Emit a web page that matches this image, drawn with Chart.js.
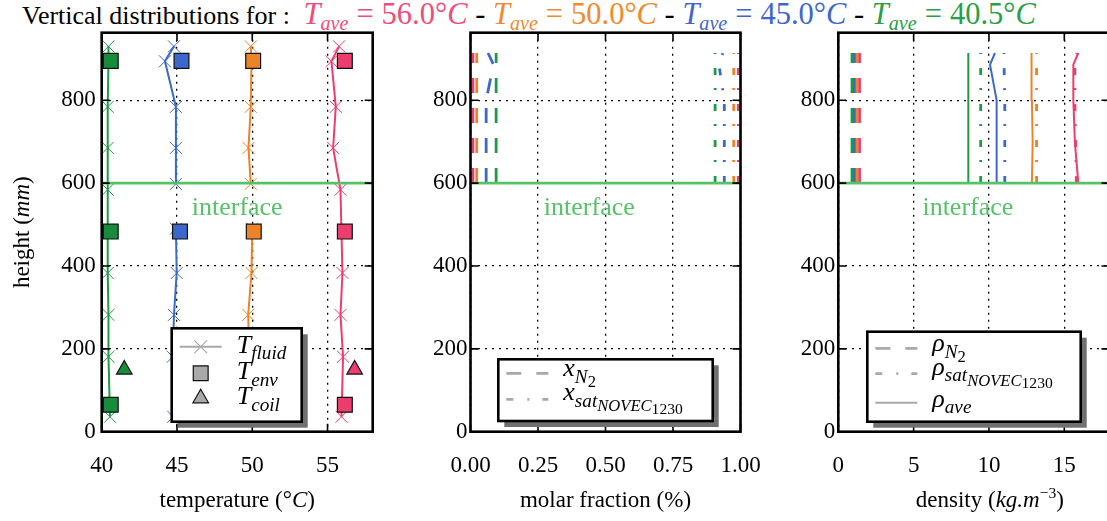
<!DOCTYPE html>
<html>
<head>
<meta charset="utf-8">
<title>Vertical distributions</title>
<script src="https://cdn.jsdelivr.net/npm/chart.js@4.4.1/dist/chart.umd.min.js"></script>
<style>
  html, body { margin: 0; padding: 0; background: #fff; }
  body { width: 1107px; height: 521px; overflow: hidden; position: relative; font-family: "Liberation Serif", "DejaVu Serif", serif; }
  .panel { position: absolute; top: 0; height: 521px; }
  #p1 { left: 0; width: 390px; }
  #p2 { left: 390px; width: 370px; }
  #p3 { left: 760px; width: 360px; }
  #title { position: absolute; left: 22px; top: -2px; font-size: 30.5px; line-height: 32px; white-space: nowrap; }
  #title .pre { font-size: 26px; margin-right: 6px; }
  #title .eq { margin: 0 8px; }
  #title sub { font-size: 0.66em; line-height: 0; vertical-align: -0.28em; }
</style>
</head>
<body>
<div id="title"><span class="pre">Vertical distributions for :</span> <span style="color:#f04c7a"><i>T</i><sub><i>ave</i></sub><span class="eq">=</span>56.0°<i>C</i></span> - <span style="color:#f08a2c"><i>T</i><sub><i>ave</i></sub><span class="eq">=</span>50.0°<i>C</i></span> - <span style="color:#3f66cf"><i>T</i><sub><i>ave</i></sub><span class="eq">=</span>45.0°<i>C</i></span> - <span style="color:#27a046"><i>T</i><sub><i>ave</i></sub><span class="eq">=</span>40.5°<i>C</i></span></div>
<div class="panel" id="p1"><canvas id="c1"></canvas></div>
<div class="panel" id="p2"><canvas id="c2"></canvas></div>
<div class="panel" id="p3"><canvas id="c3"></canvas></div>
<script>
// ---- heights (mm)
const hFluid = [36, 181, 282, 383, 584, 685, 784, 894, 930];
const hLiq = [36, 181, 282, 383, 490];
const hGas = [598, 685, 784, 894, 930];
const hEnv = [65, 483, 895];
const hCoil = [150];
const hProfile = [600, 700, 800, 886, 914];
const hInterface = 600;

// ---- temperatures (°C)
const tFluid56 = [55.93, 56.03, 55.86, 55.99, 55.86, 55.37, 55.55, 55.26, 55.77];
const tFluid40 = [40.55, 40.45, 40.45, 40.4, 40.4, 40.4, 40.4, 40.45, 40.45];
const tLiq50 = [49.8, 49.8, 49.73, 49.95, 50.0];
const tGas50 = [49.9, 49.75, 49.9, 49.95, 49.9];
const tLiq45 = [44.75, 44.72, 44.8, 44.98, 44.93];
const tGas45 = [44.93, 44.93, 44.93, 44.2, 44.8];
const tEnv56 = [56.15, 56.15, 56.15];
const tEnv50 = [50.1, 50.1, 50.06];
const tEnv45 = [45.25, 45.2, 45.3];
const tEnv40 = [40.6, 40.6, 40.6];
const tCoil56 = [56.8];
const tCoil50 = [50.9];
const tCoil45 = [45.9];
const tCoil40 = [41.5];

// ---- molar fractions
const xN2_56 = [0.009, 0.009, 0.009, 0.009, 0.009];
const xN2_50 = [0.023, 0.023, 0.023, 0.023, 0.023];
const xN2_45 = [0.058, 0.058, 0.058, 0.085, 0.065];
const xN2_40 = [0.095, 0.095, 0.095, 0.095, 0.095];
const xSat56 = [0.992, 0.992, 0.992, 0.992, 0.992];
const xSat50 = [0.975, 0.975, 0.975, 0.975, 0.975];
const xSat45 = [0.94, 0.94, 0.94, 0.92, 0.935];
const xSat40 = [0.906, 0.906, 0.906, 0.906, 0.906];

// ---- densities (kg/m3)
const rN2_56 = [1.41, 1.41, 1.41, 1.41, 1.41];
const rN2_50 = [1.24, 1.24, 1.24, 1.24, 1.24];
const rN2_45 = [1.07, 1.07, 1.07, 1.07, 1.07];
const rN2_40 = [0.91, 0.91, 0.91, 0.91, 0.91];
const rSat56 = [15.8, 15.75, 15.7, 15.7, 15.85];
const rSat50 = [13.16, 13.16, 13.16, 13.16, 13.16];
const rSat45 = [11.05, 11.05, 11.05, 11.0, 11.0];
const rSat40 = [9.45, 9.45, 9.45, 9.45, 9.45];
const rAve56 = [15.93, 15.7, 15.6, 15.6, 15.93];
const rAve50 = [12.85, 12.9, 12.85, 12.8, 12.85];
const rAve45 = [10.51, 10.51, 10.51, 10.07, 10.4];
const rAve40 = [8.63, 8.63, 8.63, 8.63, 8.63];

// ---- ticks
const tempTicks = [40, 45, 50, 55];
const fracTicks = [0, 0.25, 0.5, 0.75, 1];
const densTicks = [0, 5, 10, 15];
const heightTicks = [0, 200, 400, 600, 800];

const RED = '#ec3d6f', ORANGE = '#ec8328', BLUE = '#3c68cc', GREEN = '#1f9a44', GREEN_SQ = '#178c3b';
const IFACE = '#56c267';
const LEG_GRAY = '#a9a9a9';
const FONT = '"Liberation Serif", "DejaVu Serif", serif';
const PLOT_TOP = 32.7, PLOT_BOTTOM = 431.7, H_MAX = 963;
const DASH_N2 = [15, 15], DASH_SAT = [7, 14, 2, 13];

function pts(xs, ys) { return xs.map((v, i) => ({ x: v, y: ys[i] })); }
function split(liq, gas) { return pts(liq.concat([null], gas), hLiq.concat([null], hGas)); }

function fluid(data, color) {
  return { data, showLine: true, borderColor: color, borderWidth: 2, pointStyle: 'crossRot',
    pointRadius: 8.5, pointBorderColor: color, pointBorderWidth: 1, order: 3 };
}
function marker(data, color, style, r) {
  return { data, showLine: false, pointStyle: style, pointRadius: r, pointBackgroundColor: color,
    pointBorderColor: '#111', pointBorderWidth: 1.2, order: 2 };
}
function profile(xs, color, dash, w) {
  return { data: pts(xs, hProfile), showLine: true, borderColor: color, borderWidth: w,
    borderDash: dash, pointRadius: 0, order: 3 };
}
function iface(min, max) {
  return { data: pts([min, max], [hInterface, hInterface]), showLine: true, borderColor: IFACE,
    borderWidth: 2.6, pointRadius: 0, order: 0 };
}

// rich text: parts = [text, italic, level] ; level 0 normal, 1..3 subscripts, 'sup'
const LV = [{ s: 1, dy: 0 }, { s: 0.74, dy: 0.26 }, { s: 0.64, dy: 0.42 }, { s: 0.6, dy: 0.52 }];
function drawRich(ctx, parts, x, y, size, align) {
  const seg = parts.map(([t, it, lv]) => {
    const L = lv === 'sup' ? { s: 0.68, dy: -0.4 } : LV[lv || 0];
    const font = (it ? 'italic ' : '') + (size * L.s).toFixed(1) + 'px ' + FONT;
    ctx.font = font;
    return { t, font, dy: L.dy * size, w: ctx.measureText(t).width };
  });
  const total = seg.reduce((s, p) => s + p.w, 0);
  let cx = align === 'center' ? x - total / 2 : align === 'right' ? x - total : x;
  ctx.textAlign = 'left';
  ctx.textBaseline = 'alphabetic';
  seg.forEach(p => { ctx.font = p.font; ctx.fillText(p.t, cx, y + p.dy); cx += p.w; });
}

function drawLegend(ctx, a, L) {
  const x0 = a.left + L.dx, y0 = a.top + L.dy;
  ctx.fillStyle = '#707070';
  ctx.fillRect(x0 + 6, y0 + 6, L.w, L.h);
  ctx.fillStyle = '#fff';
  ctx.fillRect(x0, y0, L.w, L.h);
  ctx.lineWidth = 2.6;
  ctx.strokeStyle = '#000';
  ctx.strokeRect(x0, y0, L.w, L.h);
  L.rows.forEach(r => {
    const y = y0 + r.dy;
    if (r.dash) {
      ctx.save();
      ctx.strokeStyle = LEG_GRAY;
      ctx.lineWidth = r.lw;
      ctx.setLineDash(r.dash);
      ctx.beginPath();
      ctx.moveTo(x0 + 8, y);
      ctx.lineTo(x0 + 50, y);
      ctx.stroke();
      ctx.restore();
    }
    if (r.point) {
      ctx.save();
      ctx.strokeStyle = r.point.border || LEG_GRAY;
      ctx.fillStyle = LEG_GRAY;
      ctx.lineWidth = r.point.borderWidth;
      Chart.helpers.drawPoint(ctx, r.point, x0 + 29, y);
      ctx.restore();
    }
    ctx.fillStyle = '#000';
    drawRich(ctx, r.text, x0 + 65, y + (r.base || 6), 26, 'left');
  });
}

const decor = {
  id: 'decor',
  afterDraw(chart, args, o) {
    const { ctx, chartArea: a } = chart;
    const xs = chart.scales.x, ys = chart.scales.y;
    ctx.save();
    ctx.fillStyle = IFACE;
    ctx.font = '26px ' + FONT;
    ctx.textAlign = 'center';
    ctx.textBaseline = 'middle';
    ctx.fillText('interface', xs.getPixelForValue(o.labelX), ys.getPixelForValue(540));

    // inward tick marks on all four sides
    ctx.strokeStyle = '#000';
    ctx.lineWidth = 1.6;
    ctx.beginPath();
    xs.ticks.forEach(t => {
      const px = xs.getPixelForValue(t.value);
      ctx.moveTo(px, a.bottom); ctx.lineTo(px, a.bottom - 8);
      ctx.moveTo(px, a.top); ctx.lineTo(px, a.top + 8);
    });
    ys.ticks.forEach(t => {
      const py = ys.getPixelForValue(t.value);
      ctx.moveTo(a.left, py); ctx.lineTo(a.left + 8, py);
      ctx.moveTo(a.right, py); ctx.lineTo(a.right - 8, py);
    });
    ctx.stroke();
    ctx.lineWidth = 2.6;
    ctx.strokeRect(a.left, a.top, a.right - a.left, a.bottom - a.top);

    if (o.legend) drawLegend(ctx, a, o.legend);

    ctx.fillStyle = '#000';
    drawRich(ctx, o.xTitle, (a.left + a.right) / 2 + (o.xShift || 0), 507, 23, 'center');
    if (o.yTitle) {
      ctx.translate(29, (a.top + a.bottom) / 2);
      ctx.rotate(-Math.PI / 2);
      drawRich(ctx, o.yTitle, 0, 0, 23, 'center');
    }
    ctx.restore();
  }
};

function makePanel(id, p) {
  new Chart(document.getElementById(id), {
    type: 'scatter',
    data: { datasets: p.datasets },
    options: {
      responsive: true,
      maintainAspectRatio: false,
      animation: false,
      events: [],
      layout: { padding: { top: PLOT_TOP, right: p.padRight, left: 0, bottom: 0 } },
      plugins: { legend: { display: false }, tooltip: { enabled: false }, decor: p.decor },
      scales: {
        x: {
          type: 'linear', min: p.xMin, max: p.xMax,
          grid: { color: '#000', lineWidth: 1.3, drawTicks: false },
          border: { display: false, dash: [2, 5] },
          ticks: { color: '#000', font: { family: FONT, size: 23 }, padding: 20, maxRotation: 0,
            callback: p.xLabel || (v => v) },
          afterBuildTicks: s => { s.ticks = p.xTicks.map(v => ({ value: v })); },
          afterFit: s => { s.height = 521 - PLOT_BOTTOM; s.paddingLeft = 0; s.paddingRight = 0; }
        },
        y: {
          type: 'linear', min: 0, max: H_MAX,
          grid: { color: '#000', lineWidth: 1.3, drawTicks: false },
          border: { display: false, dash: [2, 5] },
          ticks: { color: '#000', font: { family: FONT, size: 23 }, padding: p.yPad },
          afterBuildTicks: s => { s.ticks = heightTicks.map(v => ({ value: v })); },
          afterFit: s => { s.width = p.yWidth; s.paddingTop = 0; s.paddingBottom = 0; }
        }
      }
    },
    plugins: [decor]
  });
}

// ---- panel 1: temperature
makePanel('c1', {
  xMin: 40, xMax: 58, xTicks: tempTicks, yWidth: 101.7, padRight: 17.3, yPad: 6,
  datasets: [
    iface(40, 58),
    marker(pts(tEnv56, hEnv), RED, 'rect', 10.5),
    marker(pts(tEnv50, hEnv), ORANGE, 'rect', 10.5),
    marker(pts(tEnv45, hEnv), BLUE, 'rect', 10.5),
    marker(pts(tEnv40, hEnv), GREEN_SQ, 'rect', 10.5),
    marker(pts(tCoil56, hCoil), RED, 'triangle', 9),
    marker(pts(tCoil50, hCoil), ORANGE, 'triangle', 9),
    marker(pts(tCoil45, hCoil), BLUE, 'triangle', 9),
    marker(pts(tCoil40, hCoil), GREEN_SQ, 'triangle', 9),
    fluid(pts(tFluid56, hFluid), RED),
    fluid(split(tLiq50, tGas50), ORANGE),
    fluid(split(tLiq45, tGas45), BLUE),
    fluid(pts(tFluid40, hFluid), GREEN)
  ],
  decor: {
    labelX: 49,
    xTitle: [['temperature (°'], ['C', true], [')']],
    yTitle: [['height ('], ['mm', true], [')']],
    legend: { dx: 70, dy: 295.6, w: 130, h: 93.4, rows: [
      { dy: 18.4, dash: [], lw: 2, point: { pointStyle: 'crossRot', radius: 9, borderWidth: 1.2, rotation: 0 },
        text: [['T', true], ['fluid', true, 1]] },
      { dy: 45, point: { pointStyle: 'rect', radius: 10.5, borderWidth: 1.2, rotation: 0, border: '#111' },
        text: [['T', true], ['env', true, 1]] },
      { dy: 70, point: { pointStyle: 'triangle', radius: 9, borderWidth: 1.2, rotation: 0, border: '#111' },
        text: [['T', true], ['coil', true, 1]] }
    ] }
  }
});

// ---- panel 2: molar fraction
makePanel('c2', {
  xMin: 0, xMax: 1, xTicks: fracTicks, yWidth: 80.5, padRight: 19.5, yPad: 3,
  xLabel: v => v.toFixed(2),
  datasets: [
    iface(0, 1),
    profile(xN2_56, RED, DASH_N2, 2.8), profile(xN2_50, ORANGE, DASH_N2, 2.8),
    profile(xN2_45, BLUE, DASH_N2, 2.8), profile(xN2_40, GREEN, DASH_N2, 2.8),
    profile(xSat56, RED, DASH_SAT, 2.8), profile(xSat50, ORANGE, DASH_SAT, 2.8),
    profile(xSat45, BLUE, DASH_SAT, 2.8), profile(xSat40, GREEN, DASH_SAT, 2.8)
  ],
  decor: {
    labelX: 0.44,
    xTitle: [['molar fraction (%)']],
    legend: { dx: 27.8, dy: 326.6, w: 214.4, h: 61.7, rows: [
      { dy: 14, base: 3, dash: DASH_N2, lw: 2.8, text: [['x', true], ['N', true, 1], ['2', false, 2]] },
      { dy: 40, base: 1, dash: DASH_SAT, lw: 2.8,
        text: [['x', true], ['sat', true, 1], ['NOVEC', true, 2], ['1230', false, 3]] }
    ] }
  }
});

// ---- panel 3: density
makePanel('c3', {
  xMin: 0, xMax: 18, xTicks: densTicks, yWidth: 78.3, padRight: 10.5, yPad: 3,
  datasets: [
    iface(0, 18),
    profile(rN2_40, GREEN, DASH_N2, 2.8), profile(rN2_45, BLUE, DASH_N2, 2.8),
    profile(rN2_50, ORANGE, DASH_N2, 2.8), profile(rN2_56, RED, DASH_N2, 2.8),
    profile(rSat56, RED, DASH_SAT, 2.8), profile(rSat50, ORANGE, DASH_SAT, 2.8),
    profile(rSat45, BLUE, DASH_SAT, 2.8), profile(rSat40, GREEN, DASH_SAT, 2.8),
    profile(rAve56, RED, [], 2), profile(rAve50, ORANGE, [], 2),
    profile(rAve45, BLUE, [], 2), profile(rAve40, GREEN, [], 2)
  ],
  decor: {
    labelX: 8.6, xShift: 16,
    xTitle: [['density ('], ['kg.m', true], ['−3', false, 'sup'], [')']],
    legend: { dx: 29, dy: 299, w: 213.4, h: 90, rows: [
      { dy: 16.6, base: 3, dash: DASH_N2, lw: 2.8, text: [['ρ', true], ['N', true, 1], ['2', false, 2]] },
      { dy: 42, base: 1, dash: DASH_SAT, lw: 2.8,
        text: [['ρ', true], ['sat', true, 1], ['NOVEC', true, 2], ['1230', false, 3]] },
      { dy: 71, base: 4, dash: [], lw: 2, text: [['ρ', true], ['ave', true, 1]] }
    ] }
  }
});
</script>
</body>
</html>
